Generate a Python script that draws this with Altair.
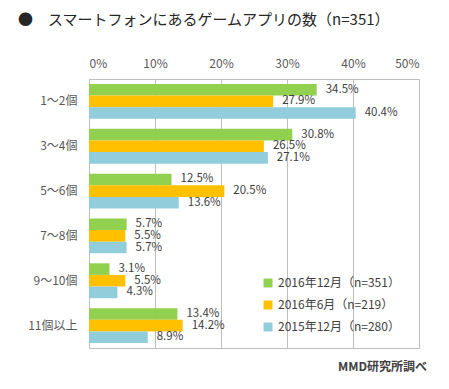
import altair as alt
import pandas as pd

categories = ["1～2個", "3～4個", "5～6個", "7～8個", "9～10個", "11個以上"]
series = ["2016年12月（n=351）", "2016年6月（n=219）", "2015年12月（n=280）"]
colors = ["#92D050", "#FFC000", "#92CDDC"]
dec2016 = [34.5, 30.8, 12.5, 5.7, 3.1, 13.4]
jun2016 = [27.9, 26.5, 20.5, 5.5, 5.5, 14.2]
dec2015 = [40.4, 27.1, 13.6, 5.7, 4.3, 8.9]
x_ticks = [0, 10, 20, 30, 40, 50]

rows = []
for s, vals in zip(series, [dec2016, jun2016, dec2015]):
    for c, v in zip(categories, vals):
        rows.append({"cat": c, "series": s, "value": v, "label": f"{v:.1f}%"})
df = pd.DataFrame(rows)

FONT = "Noto Sans CJK JP"

y_enc = alt.Y("cat:N", sort=categories,
              scale=alt.Scale(paddingInner=0.22, paddingOuter=0.11),
              axis=alt.Axis(title=None, ticks=False, domain=False, labelPadding=12,
                            labelFontSize=12, labelColor="#595959", labelFont=FONT))
yoff = alt.YOffset("series:N", sort=series)

base = alt.Chart(df)
bars = base.mark_bar(size=11.6).encode(
    x=alt.X("value:Q", scale=alt.Scale(domain=[0, 50]),
            axis=alt.Axis(orient="top", title=None, values=x_ticks, ticks=False, domain=False,
                          labelExpr="datum.value + '%'", labelPadding=9, labelFontSize=12,
                          labelColor="#595959", labelFont=FONT, gridColor="#BFBFBF")),
    y=y_enc,
    yOffset=yoff,
    color=alt.Color("series:N", sort=series,
                    scale=alt.Scale(domain=series, range=colors),
                    legend=alt.Legend(title=None, orient="none", legendX=173, legendY=198,
                                      symbolType="square", symbolSize=80, rowPadding=10,
                                      labelFontSize=12, labelColor="#404040", labelFont=FONT,
                                      symbolStrokeWidth=0)),
)
labels = base.mark_text(align="left", dx=9, fontSize=11.5, color="#404040", font=FONT).encode(
    x="value:Q", y=alt.Y("cat:N", sort=categories), yOffset=yoff, text="label:N"
)
source = alt.Chart(pd.DataFrame({"t": ["MMD研究所調べ"]})).mark_text(
    align="right", baseline="middle", fontSize=12, fontWeight="bold", color="#404040", font=FONT
).encode(x=alt.value(338), y=alt.value(288), text="t:N")

chart = alt.layer(bars, labels, source).properties(
    width=330, height=269,
    autosize=alt.AutoSizeParams(type="none"),
    padding={"left": 81, "top": 71, "right": 22, "bottom": 31},
    title=alt.TitleParams("●　スマートフォンにあるゲームアプリの数（n=351）", anchor="start",
                          frame="group", dx=-71, fontSize=15, fontWeight="normal",
                          color="#262626", font=FONT, offset=29),
).configure_view(stroke="#BFBFBF")

chart.save("out.html", embed_options={"renderer": "svg", "actions": False})
